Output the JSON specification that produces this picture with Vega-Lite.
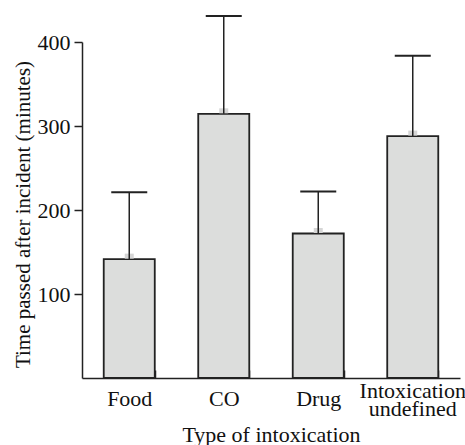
{
  "$schema": "https://vega.github.io/schema/vega-lite/v6.json",
  "autosize": {"type": "none"},
  "padding": {"left": 82, "top": 42, "right": 5, "bottom": 67},
  "width": 378,
  "height": 336,
  "background": "white",
  "config": {
    "view": {"stroke": null},
    "axis": {"labelFont": "Liberation Serif", "titleFont": "Liberation Serif", "labelColor": "#111", "titleColor": "#111", "titleFontWeight": "normal", "grid": false, "domainColor": "#222", "tickColor": "#222", "domainWidth": 1.5, "tickWidth": 1.5}
  },
  "data": {"values": [
    {"type": "Food", "mean": 141.5, "upper": 221},
    {"type": "CO", "mean": 314.5, "upper": 431},
    {"type": "Drug", "mean": 172, "upper": 222},
    {"type": "Intoxication undefined", "mean": 288, "upper": 383.5}
  ]},
  "resolve": {"axis": {"x": "independent"}},
  "layer": [
    {
      "mark": {"type": "bar", "fill": "#dcdddc", "stroke": "#222", "strokeWidth": 1.8},
      "encoding": {
        "x": {"field": "type", "type": "nominal", "sort": null,
          "scale": {"paddingInner": 0.46, "paddingOuter": 0.23},
          "axis": {"orient": "bottom", "title": "Type of intoxication", "labelAngle": 0, "labelFontSize": 22, "titleFontSize": 22,
            "tickBand": "extent", "tickSize": -8, "labelPadding": 28, "labelBaseline": "middle",
            "labelExpr": "datum.label == 'Intoxication undefined' ? '' : datum.label",
            "titleY": 63, "titleBaseline": "alphabetic"}
        },
        "y": {"field": "mean", "type": "quantitative",
          "scale": {"domain": [0, 400], "nice": false, "zero": true},
          "axis": {"title": "Time passed after incident (minutes)", "values": [100, 200, 300, 400],
            "labelFontSize": 22, "titleFontSize": 21, "tickSize": 8, "labelPadding": 4,
            "titleX": -53, "titleY": 172, "titleBaseline": "alphabetic", "titleAngle": -90}
        }
      }
    },
    {
      "mark": {"type": "tick", "color": "#d6d6d6", "size": 9, "thickness": 5, "yOffset": -3, "opacity": 1},
      "encoding": {
        "x": {"field": "type", "type": "nominal", "sort": null,
          "axis": {"orient": "bottom", "title": null, "labelAngle": 0, "labelFontSize": 22, "domain": false,
            "tickSize": -8, "tickOpacity": 0, "labelPadding": 20, "labelBaseline": "middle", "labelLineHeight": 18,
            "labelExpr": "datum.label == 'Intoxication undefined' ? ['Intoxication','undefined'] : ''"}
        },
        "y": {"field": "mean", "type": "quantitative"}
      }
    },
    {
      "mark": {"type": "rule", "color": "#222", "strokeWidth": 1.5},
      "encoding": {
        "x": {"field": "type", "type": "nominal", "sort": null, "axis": null},
        "y": {"field": "mean", "type": "quantitative"},
        "y2": {"field": "upper"}
      }
    },
    {
      "mark": {"type": "tick", "color": "#222", "size": 36, "thickness": 2, "opacity": 1},
      "encoding": {
        "x": {"field": "type", "type": "nominal", "sort": null, "axis": null},
        "y": {"field": "upper", "type": "quantitative"}
      }
    }
  ]
}
